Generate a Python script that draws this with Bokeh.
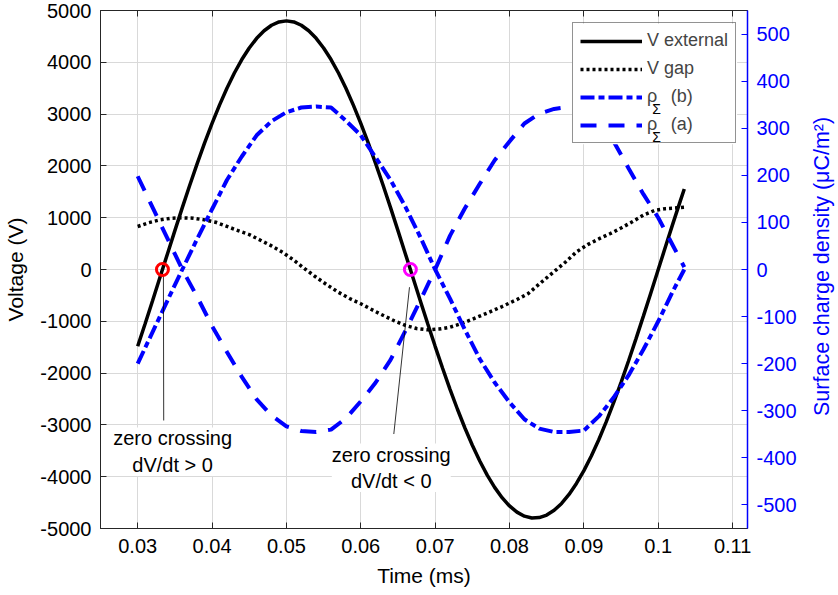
import math
from bokeh.plotting import figure
from bokeh.layouts import row
from bokeh.models import (Range1d, LinearAxis, FixedTicker, Legend, LegendItem, Label,
                          BoxAnnotation)
from bokeh.embed import file_html
from bokeh.resources import INLINE

# ---------------- data ----------------
T_EXT = [0.030, 0.031, 0.032, 0.033, 0.034, 0.035, 0.036, 0.037, 0.038, 0.039,
         0.040, 0.041, 0.042, 0.043, 0.044, 0.045, 0.046, 0.047, 0.048, 0.049,
         0.050, 0.051, 0.052, 0.053, 0.054, 0.055, 0.056, 0.057, 0.058, 0.059,
         0.060, 0.061, 0.062, 0.063, 0.064, 0.065, 0.066, 0.067, 0.068, 0.069,
         0.070, 0.071, 0.072, 0.073, 0.074, 0.075, 0.076, 0.077, 0.078, 0.079,
         0.080, 0.081, 0.082, 0.083, 0.084, 0.085, 0.086, 0.087, 0.088, 0.089,
         0.090, 0.091, 0.092, 0.093, 0.094, 0.095, 0.096, 0.097, 0.098, 0.099,
         0.100, 0.101, 0.102, 0.103, 0.1035]
V_EXT = [-1483, -1047, -602, -151, 301, 751, 1194, 1626, 2044, 2443,
         2821, 3174, 3499, 3793, 4053, 4277, 4463, 4609, 4715, 4779,
         4800, 4779, 4715, 4609, 4463, 4277, 4053, 3793, 3499, 3174,
         2821, 2443, 2044, 1626, 1194, 751, 301, -151, -602, -1047,
         -1483, -1906, -2313, -2698, -3060, -3394, -3698, -3970, -4206, -4405,
         -4565, -4684, -4762, -4798, -4790, -4741, -4649, -4516, -4343, -4131,
         -3883, -3600, -3286, -2942, -2572, -2179, -1767, -1339, -900, -452,
         0, 452, 900, 1339, 1555]

T_GAP = [0.0300, 0.0315, 0.0330, 0.0345, 0.0360, 0.0375, 0.0390, 0.0405, 0.0420, 0.0435,
         0.0450, 0.0465, 0.0480, 0.0495, 0.0510, 0.0525, 0.0540, 0.0555, 0.0570, 0.0585,
         0.0600, 0.0625, 0.0645, 0.0660, 0.0675, 0.0690, 0.0705, 0.0720, 0.0735, 0.0750,
         0.0770, 0.0790, 0.0810, 0.0825, 0.0840, 0.0860, 0.0875, 0.0890, 0.0905, 0.0920,
         0.0935, 0.0950, 0.0965, 0.0980, 0.0995, 0.1010, 0.1025, 0.1035]
V_GAP = [830, 905, 958, 990, 998, 990, 958, 912, 832, 750,
         675, 565, 455, 330, 180, 10, -150, -300, -440, -560,
         -662, -850, -990, -1080, -1140, -1164, -1150, -1114, -1045, -960,
         -840, -715, -580, -465, -280, -40, 140, 340, 480, 590,
         690, 800, 920, 1050, 1140, 1175, 1190, 1200]

T_RHO = [0.030, 0.032, 0.034, 0.036, 0.038, 0.040, 0.042, 0.044, 0.046, 0.048,
         0.050, 0.052, 0.054, 0.056, 0.058, 0.060, 0.062, 0.064, 0.066, 0.068,
         0.070, 0.072, 0.074, 0.076, 0.078, 0.080, 0.082, 0.084, 0.086, 0.088,
         0.090, 0.092, 0.094, 0.096, 0.098, 0.100, 0.102, 0.1035]
RHO_B = [-200, -133, -66, 0, 65, 128, 190, 240, 285, 315,
         334, 344, 346, 344, 316, 285, 238, 190, 133, 69,
         0, -62, -128, -190, -240, -282, -318, -338, -345, -345,
         -342, -312, -272, -225, -170, -110, -45, 0]
RHO_A = [198, 132, 66, 0, -58, -120, -175, -228, -276, -310,
         -333, -343, -345, -340, -316, -280, -240, -192, -130, -66,
         0, 72, 130, 182, 232, 272, 310, 331, 341, 345,
         343, 318, 272, 215, 160, 110, 50, 5]

X_TICKS = [0.03, 0.04, 0.05, 0.06, 0.07, 0.08, 0.09, 0.10, 0.11]
X_TICK_LABELS = ["0.03", "0.04", "0.05", "0.06", "0.07", "0.08", "0.09", "0.1", "0.11"]
V_TICKS = [-5000, -4000, -3000, -2000, -1000, 0, 1000, 2000, 3000, 4000, 5000]
V_TICK_LABELS = ["-5000", "-4000", "-3000", "-2000", "-1000", "0",
                 "1000", "2000", "3000", "4000", "5000"]
RHO_TICKS = [-500, -400, -300, -200, -100, 0, 100, 200, 300, 400, 500]
RHO_TICK_LABELS = ["-500", "-400", "-300", "-200", "-100", "0",
                   "100", "200", "300", "400", "500"]

ZERO_T = [0.03333, 0.06667]
ZERO_V = [0, 0]
ZERO_COLORS = ["#ff0000", "#ff00ff"]

ANN_X0 = [0.03346, 0.06655]
ANN_Y0 = [-116, -342]
ANN_X1 = [0.03350, 0.06444]
ANN_Y1 = [-2915, -3176]
ANN_TEXT = ["zero crossing\ndV/dt > 0", "zero crossing\ndV/dt < 0"]
ANN_TX = [0.0347, 0.0641]
ANN_TY = [-3050, -3360]

LEGEND_LABELS = ["V external", "V gap", "\u03c1\u2002\u2005(b)", "\u03c1\u2002\u2005(a)"]
# subscript "Σ" anchors next to the two ρ legend entries (left-axis data units)
SUB_X = [0.0992, 0.0992]
SUB_Y = [3100, 2560]
RIGHT_LABEL = "Surface charge density (\u03bcC/m\u00b2)"

FONT = "Liberation Sans"
BLUE = "#0000ff"
AX = "#262626"

MAIN_W = 806
SIDE_W = 838 - MAIN_W
H = 595

# ---------------- main figure ----------------
p = figure(width=MAIN_W, height=H,
           x_range=Range1d(0.025, 0.112), y_range=Range1d(-5000, 5000),
           output_backend="svg", toolbar_location=None,
           min_border_left=100, min_border_right=MAIN_W - 747,
           min_border_top=10, min_border_bottom=67)
p.extra_y_ranges = {"rho": Range1d(-550, 550)}
p.outline_line_color = AX
p.outline_line_width = 1
p.background_fill_color = "white"
p.border_fill_color = "white"


def style_axis(ax, color=AX, text_color="black"):
    ax.major_tick_in = 6
    ax.major_tick_out = 0
    ax.minor_tick_line_color = None
    ax.axis_line_color = color
    ax.major_tick_line_color = color
    ax.major_label_text_color = text_color
    ax.major_label_text_font = FONT
    ax.major_label_text_font_size = "20px"
    ax.axis_label_text_font = FONT
    ax.axis_label_text_font_size = "21px"
    ax.axis_label_text_font_style = "normal"
    ax.axis_label_text_color = text_color


xa = p.xaxis[0]
xa.ticker = FixedTicker(ticks=X_TICKS)
xa.major_label_overrides = dict(zip(X_TICKS, X_TICK_LABELS))
xa.axis_label = "Time (ms)"
style_axis(xa)
xa.major_label_standoff = 10
xa.axis_label_standoff = 8

ya = p.yaxis[0]
ya.ticker = FixedTicker(ticks=V_TICKS)
ya.major_label_overrides = dict(zip(V_TICKS, V_TICK_LABELS))
ya.axis_label = "Voltage (V)"
style_axis(ya)
ya.major_label_standoff = 9
ya.axis_label_standoff = 10

top = LinearAxis(ticker=FixedTicker(ticks=X_TICKS))
style_axis(top)
top.major_label_overrides = {t: "" for t in X_TICKS}
top.major_label_text_font_size = "1px"
top.major_label_standoff = 0
p.add_layout(top, "above")

ra = LinearAxis(y_range_name="rho", ticker=FixedTicker(ticks=RHO_TICKS))
ra.major_label_overrides = dict(zip(RHO_TICKS, RHO_TICK_LABELS))
style_axis(ra, color=BLUE, text_color=BLUE)
ra.axis_line_width = 1.5
ra.major_label_standoff = 9
p.add_layout(ra, "right")

p.xgrid.ticker = FixedTicker(ticks=X_TICKS)
p.ygrid.ticker = FixedTicker(ticks=V_TICKS)
p.xgrid.grid_line_color = "#d9d9d9"
p.ygrid.grid_line_color = "#d9d9d9"

# ---------------- glyphs ----------------
r_ext = p.line(T_EXT, V_EXT, line_color="black", line_width=3.5)
r_gap = p.line(T_GAP, V_GAP, line_color="black", line_width=3.5, line_dash="3 3")
r_b = p.line(T_RHO, RHO_B, y_range_name="rho", line_color=BLUE, line_width=4,
             line_dash="14 4 6 4")
r_a = p.line(T_RHO, RHO_A, y_range_name="rho", line_color=BLUE, line_width=4,
             line_dash="16 12")

p.segment(ANN_X0, ANN_Y0, ANN_X1, ANN_Y1, line_color="black", line_width=0.8)
p.scatter(ZERO_T, ZERO_V, marker="circle", size=12, line_width=3,
          line_color=ZERO_COLORS, fill_color=None)

for tx, ty, tt in zip(ANN_TX, ANN_TY, ANN_TEXT):
    p.add_layout(Label(x=tx, y=ty, text=tt, text_align="center", text_baseline="top",
                       text_font=FONT, text_font_size="20px", text_color="black",
                       background_fill_color="white"))

# white box behind a transparent legend, so the subscripts can sit on top
p.add_layout(BoxAnnotation(left=0.0884, right=0.1106, top=4745, bottom=2420,
                           fill_color="white", fill_alpha=1.0, line_color=None))

legend = Legend(items=[LegendItem(label=lab, renderers=[r])
                       for lab, r in zip(LEGEND_LABELS, [r_ext, r_gap, r_b, r_a])],
                location=(472, 385), orientation="vertical",
                glyph_width=62, glyph_height=20, label_standoff=5,
                padding=7, spacing=7, margin=0,
                label_text_font=FONT, label_text_font_size="18px",
                border_line_color=AX, border_line_width=1,
                background_fill_color="white", background_fill_alpha=0.0)
p.add_layout(legend)

for sx, sy in zip(SUB_X, SUB_Y):
    p.add_layout(Label(x=sx, y=sy, text="\u03a3",
                       text_font=FONT, text_font_size="14px", text_baseline="alphabetic",
                       text_align="left", text_color="black"))

# ---------------- narrow strip holding the right-axis title ----------------
# (its frame is aligned with the main frame by the row layout: rows 10..528)
side = figure(width=SIDE_W, height=H, x_range=Range1d(0, 1), y_range=Range1d(0, 1),
              output_backend="svg", toolbar_location=None,
              x_axis_location=None, y_axis_location=None,
              min_border=0, min_border_left=0, min_border_right=0,
              min_border_top=0, min_border_bottom=0)
side.grid.visible = False
side.outline_line_color = None
side.background_fill_color = "white"
side.border_fill_color = "white"
side.add_layout(Label(x=0.47, y=0.506, text=RIGHT_LABEL, angle=math.pi / 2,
                      text_align="center", text_baseline="middle",
                      text_font=FONT, text_font_size="21.5px", text_color=BLUE))

layout = row(p, side, spacing=0)
open("out.html", "w").write(file_html(layout, INLINE))
